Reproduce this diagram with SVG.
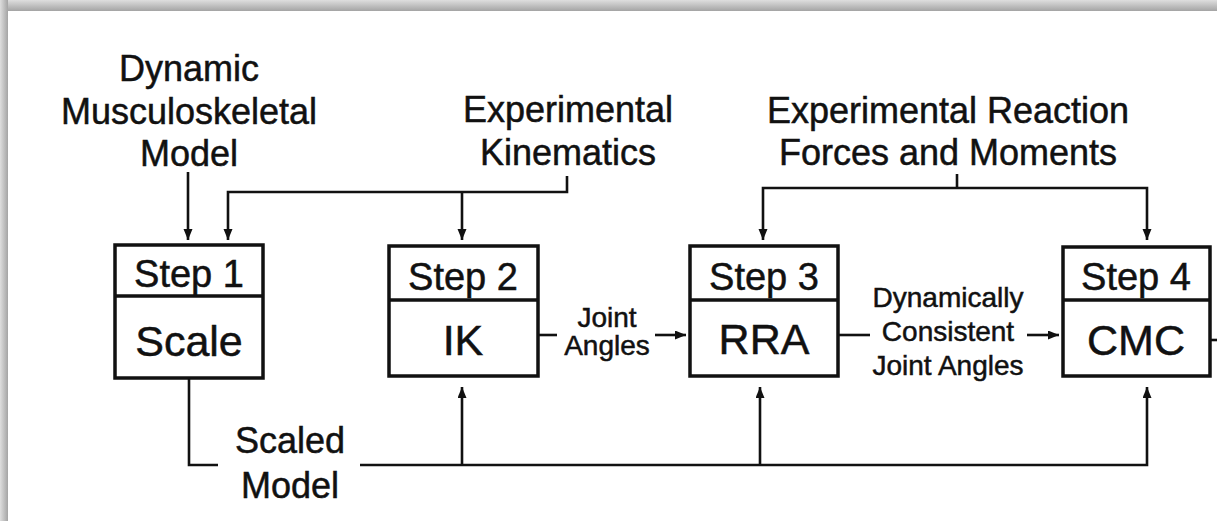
<svg xmlns="http://www.w3.org/2000/svg" width="1217" height="521" viewBox="0 0 1217 521">
  <defs>
    <linearGradient id="gTop" x1="0" y1="0" x2="0" y2="1">
      <stop offset="0" stop-color="#dedede"/>
      <stop offset="1" stop-color="#a4a4a4"/>
    </linearGradient>
    <linearGradient id="gLeft" x1="0" y1="0" x2="1" y2="0">
      <stop offset="0" stop-color="#dedede"/>
      <stop offset="1" stop-color="#a4a4a4"/>
    </linearGradient>
    <marker id="ah" markerUnits="userSpaceOnUse" markerWidth="12" markerHeight="10" refX="11" refY="4.5" orient="auto">
      <path d="M0,0 L11,4.5 L0,9 z" fill="#111"/>
    </marker>
    <style>
      .box { fill: #fff; stroke: #111; stroke-width: 3.5; }
      .div { stroke: #111; stroke-width: 3.5; fill: none; }
      .con { stroke: #111; stroke-width: 2.6; fill: none; }
      .arr { stroke: #111; stroke-width: 2.6; fill: none; marker-end: url(#ah); }
      text { font-family: "Liberation Sans", Arial, sans-serif; fill: #111; stroke: #111; stroke-width: 0.5; text-anchor: middle; }
      .step { font-size: 38px; }
      .main { font-size: 43px; }
      .top { font-size: 36px; }
      .small { font-size: 28px; }
    </style>
  </defs>

  <rect x="0" y="0" width="1217" height="521" fill="#fff"/>
  <rect x="0" y="0" width="1217" height="11" fill="url(#gTop)"/>
  <rect x="0" y="0" width="8" height="521" fill="url(#gLeft)"/>

  <g id="labels-input">
    <g id="dynamic-model">
      <text class="top" x="189" y="81">Dynamic</text>
      <text class="top" x="189" y="124">Musculoskeletal</text>
      <text class="top" x="189" y="166">Model</text>
    </g>
    <g id="exp-kinematics">
      <text class="top" x="568" y="122">Experimental</text>
      <text class="top" x="568" y="165">Kinematics</text>
    </g>
    <g id="exp-forces">
      <text class="top" x="948" y="123">Experimental Reaction</text>
      <text class="top" x="948" y="165">Forces and Moments</text>
    </g>
  </g>

  <g id="connectors">
    <path class="arr" d="M188,172 V240"/>
    <path class="arr" d="M567,176 V192 H228 V240"/>
    <path class="arr" d="M462,192 V240"/>
    <path class="con" d="M957,174 V188"/>
    <path class="arr" d="M957,188 H763 V240"/>
    <path class="arr" d="M957,188 H1147 V240"/>
    <path class="con" d="M189,378 V465 H218"/>
    <path class="arr" d="M360,465 H1147 V387"/>
    <path class="arr" d="M462,465 V387"/>
    <path class="arr" d="M760,465 V387"/>
    <path class="con" d="M538,335 H557"/>
    <path class="arr" d="M655,335 H686"/>
    <path class="con" d="M838,335 H870"/>
    <path class="arr" d="M1027,335 H1059"/>
    <path class="con" d="M1210,340 H1217"/>
  </g>

  <g id="step1">
    <rect class="box" x="115" y="245" width="148" height="133"/>
    <line class="div" x1="115" y1="296" x2="263" y2="296"/>
    <text class="step" x="189" y="287">Step 1</text>
    <text class="main" x="189" y="356">Scale</text>
  </g>
  <g id="step2">
    <rect class="box" x="389" y="246" width="149" height="130"/>
    <line class="div" x1="389" y1="300" x2="538" y2="300"/>
    <text class="step" x="463" y="290">Step 2</text>
    <text class="main" x="463" y="355">IK</text>
  </g>
  <g id="step3">
    <rect class="box" x="690" y="246" width="148" height="130"/>
    <line class="div" x1="690" y1="300" x2="838" y2="300"/>
    <text class="step" x="764" y="290">Step 3</text>
    <text class="main" x="764" y="354">RRA</text>
  </g>
  <g id="step4">
    <rect class="box" x="1063" y="247" width="147" height="129"/>
    <line class="div" x1="1063" y1="300" x2="1210" y2="300"/>
    <text class="step" x="1136" y="290">Step 4</text>
    <text class="main" x="1136" y="355">CMC</text>
  </g>

  <g id="edge-labels">
    <text class="small" x="607" y="327">Joint</text>
    <text class="small" x="607" y="355">Angles</text>
    <text class="small" x="948" y="307">Dynamically</text>
    <text class="small" x="948" y="341">Consistent</text>
    <text class="small" x="948" y="375">Joint Angles</text>
    <text class="top" x="290" y="453">Scaled</text>
    <text class="top" x="290" y="498">Model</text>
  </g>
</svg>
